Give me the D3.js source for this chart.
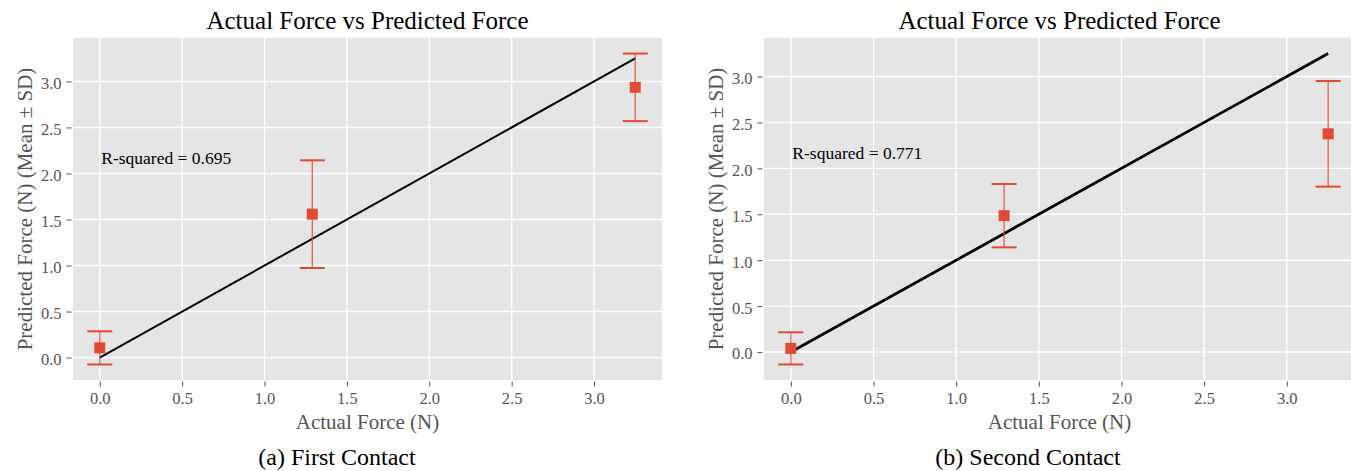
<!DOCTYPE html>
<html lang="en">
<head>
<meta charset="UTF-8">
<title>Actual Force vs Predicted Force</title>
<script src="https://d3js.org/d3.v7.min.js"></script>
<style>
  body { margin: 0; background: #fff; }
  text { font-family: "Liberation Serif", "Times New Roman", serif; }
</style>
</head>
<body>
<div class="chart"></div>
<script>
// data
const actual = [0, 1.29, 3.25];
const meanFirst = [0.105, 1.558, 2.936];
const sdFirst = [0.18, 0.585, 0.367];
const meanSecond = [0.04, 1.485, 2.376];
const sdSecond = [0.175, 0.345, 0.575];
const fitLine = [0, 3.25];              // y = x reference line
const xTicks = [0, 0.5, 1.0, 1.5, 2.0, 2.5, 3.0];
const yTicks = [0, 0.5, 1.0, 1.5, 2.0, 2.5, 3.0];
const rSquared = ["0.695", "0.771"];
const captions = ["(a) First Contact", "(b) Second Contact"];

const W = 1351, H = 471;
const red = "#E24A33";

const svg = d3.select(".chart").append("svg")
    .attr("width", W)
    .attr("height", H);

// matplotlib style 5% margins
function padded(lo, hi) {
    const m = (hi - lo) * 0.05;
    return [lo - m, hi + m];
}

function drawPanel(opt) {
    const { left, right, top, bottom, mean, sd, r2, caption, capX, lineW } = opt;

    const xDom = padded(d3.min(actual.concat(fitLine)), d3.max(actual.concat(fitLine)));
    const lows = mean.map((m, i) => m - sd[i]);
    const highs = mean.map((m, i) => m + sd[i]);
    const yDom = padded(d3.min(lows.concat(fitLine)), d3.max(highs.concat(fitLine)));

    const x = d3.scaleLinear().domain(xDom).range([left, right]);
    const y = d3.scaleLinear().domain(yDom).range([bottom, top]);

    const g = svg.append("g");

    g.append("rect")
        .attr("x", left).attr("y", top)
        .attr("width", right - left).attr("height", bottom - top)
        .attr("fill", "#E5E5E5");

    // grid
    g.selectAll(".vgrid").data(xTicks).join("line")
        .attr("x1", d => x(d)).attr("x2", d => x(d))
        .attr("y1", top).attr("y2", bottom)
        .attr("stroke", "#fff").attr("stroke-width", 1.4);
    g.selectAll(".hgrid").data(yTicks).join("line")
        .attr("y1", d => y(d)).attr("y2", d => y(d))
        .attr("x1", left).attr("x2", right)
        .attr("stroke", "#fff").attr("stroke-width", 1.4);

    // axes
    const xAxis = d3.axisBottom(x).tickValues(xTicks).tickFormat(d3.format(".1f"))
        .tickSize(5).tickPadding(6);
    const yAxis = d3.axisLeft(y).tickValues(yTicks).tickFormat(d3.format(".1f"))
        .tickSize(5).tickPadding(5);

    const gx = g.append("g").attr("transform", `translate(0,${bottom + 1.5})`).call(xAxis);
    const gy = g.append("g").attr("transform", `translate(${left - 1.5},0)`).call(yAxis);
    [gx, gy].forEach(a => {
        a.select(".domain").remove();
        a.selectAll(".tick line").attr("stroke", "#555").attr("stroke-width", 1);
        a.selectAll(".tick text")
            .attr("fill", "#555")
            .style("font-size", "16.5px")
            .style("font-family", "'Liberation Serif', serif");
    });
    gy.selectAll(".tick text").attr("dy", "0.42em");

    // y = x line
    g.append("line")
        .attr("x1", x(fitLine[0])).attr("y1", y(fitLine[0]))
        .attr("x2", x(fitLine[1])).attr("y2", y(fitLine[1]))
        .attr("stroke", "#000").attr("stroke-width", lineW);

    // error bars
    const pts = actual.map((a, i) => ({ a, m: mean[i], s: sd[i] }));
    const eb = g.selectAll(".eb").data(pts).join("g");
    eb.append("line")
        .attr("x1", d => x(d.a)).attr("x2", d => x(d.a))
        .attr("y1", d => y(d.m - d.s)).attr("y2", d => y(d.m + d.s))
        .attr("stroke", red).attr("stroke-opacity", 0.85).attr("stroke-width", 1.3);
    [-1, 1].forEach(sg => {
        eb.append("line")
            .attr("x1", d => x(d.a) - 12.5).attr("x2", d => x(d.a) + 12.5)
            .attr("y1", d => y(d.m + sg * d.s)).attr("y2", d => y(d.m + sg * d.s))
            .attr("stroke", red).attr("stroke-width", 2);
    });
    eb.append("rect")
        .attr("x", d => x(d.a) - 5.5).attr("y", d => y(d.m) - 5.5)
        .attr("width", 11).attr("height", 11)
        .attr("fill", red);

    // annotation
    g.append("text")
        .attr("x", x(0) + 1.5).attr("y", y(2.1))
        .style("font-size", "17.5px")
        .attr("fill", "#000")
        .text("R-squared = " + r2);

    const cx = (left + right) / 2;
    g.append("text")
        .attr("x", cx).attr("y", 28.5)
        .attr("text-anchor", "middle")
        .style("font-size", "25px")
        .text("Actual Force vs Predicted Force");

    g.append("text")
        .attr("x", cx).attr("y", 429)
        .attr("text-anchor", "middle")
        .attr("fill", "#555")
        .style("font-size", "21px")
        .text("Actual Force (N)");

    g.append("text")
        .attr("transform", `translate(${left - 41},${(top + bottom) / 2}) rotate(-90)`)
        .attr("text-anchor", "middle")
        .attr("fill", "#555")
        .style("font-size", "21px")
        .text("Predicted Force (N) (Mean \u00B1 SD)");

    svg.append("text")
        .attr("x", capX).attr("y", 465)
        .attr("text-anchor", "middle")
        .style("font-size", "24px")
        .text(caption);
}

drawPanel({ left: 73, right: 662, top: 38, bottom: 380,
    mean: meanFirst, sd: sdFirst, r2: rSquared[0], caption: captions[0], capX: 337, lineW: 2 });
drawPanel({ left: 764, right: 1355, top: 38, bottom: 380,
    mean: meanSecond, sd: sdSecond, r2: rSquared[1], caption: captions[1], capX: 1028, lineW: 2.8 });
</script>
</body>
</html>
